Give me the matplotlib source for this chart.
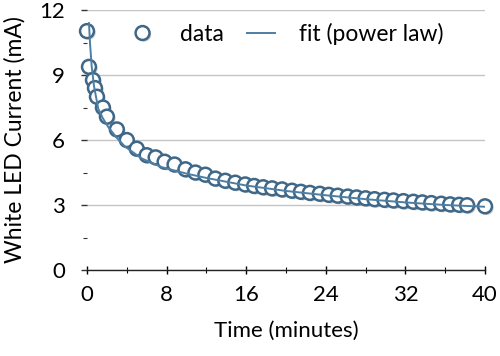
import matplotlib
matplotlib.use("Agg")
import matplotlib.pyplot as plt
import matplotlib.patheffects as pe
from matplotlib.ticker import MultipleLocator

time_min = [0, 0.2, 0.6, 0.8, 1.0, 1.6, 2.0, 3.0, 4.0, 5.0, 6.0, 6.9, 7.8, 8.8,
            9.9, 10.9, 11.9, 12.9, 13.9, 14.9, 15.9, 16.8, 17.7, 18.6, 19.6,
            20.6, 21.5, 22.4, 23.4, 24.3, 25.2, 26.2, 27.1, 28.0, 28.9, 29.9,
            30.8, 31.8, 32.8, 33.7, 34.6, 35.6, 36.5, 37.4, 38.2, 40.0]
current_ma = [11.03, 9.38, 8.77, 8.4, 8.0, 7.5, 7.08, 6.49, 6.0, 5.6, 5.3, 5.2,
              5.0, 4.87, 4.65, 4.5, 4.4, 4.22, 4.12, 4.03, 3.95, 3.88, 3.82,
              3.77, 3.72, 3.66, 3.61, 3.56, 3.52, 3.47, 3.43, 3.39, 3.35, 3.31,
              3.27, 3.24, 3.21, 3.18, 3.15, 3.12, 3.09, 3.06, 3.03, 3.01, 2.99,
              2.94]

# power-law fit curve
fit_t = [0.2, 0.3, 0.47, 0.7, 1.13, 1.6, 2.14, 3.0, 3.82, 5.5, 7.5, 10, 12,
         16, 20, 24, 28, 32, 36, 40]
fit_ma = [11.4, 10.5, 9.4, 8.5, 7.45, 7.0, 6.6, 6.1, 5.7, 5.15, 4.75, 4.45,
          4.25, 3.9, 3.65, 3.45, 3.27, 3.12, 3.0, 2.92]

plt.rcParams["font.family"] = ["Lato", "DejaVu Sans"]

fig = plt.figure(figsize=(5, 3.56), dpi=100)
ax = fig.add_axes([0.174, 0.2416, 0.796, 0.730])

edge = "#3e6788"
shadow = [pe.SimplePatchShadow(offset=(1.2, -1.2), alpha=0.3), pe.Normal()]

ax.plot(
    time_min,
    current_ma,
    linestyle="none",
    marker="o",
    markersize=10,
    markerfacecolor="white",
    markeredgecolor=edge,
    markeredgewidth=1.8,
    clip_on=False,
    zorder=3,
    path_effects=shadow,
    label="data"
)

ax.plot(
    fit_t,
    fit_ma,
    color="#4d7ea3",
    linewidth=1.4,
    zorder=4,
    label="fit (power law)"
)

ax.set_xlim(0, 40)
ax.set_ylim(0, 12)
ax.xaxis.set_major_locator(MultipleLocator(8))
ax.xaxis.set_minor_locator(MultipleLocator(4))
ax.yaxis.set_major_locator(MultipleLocator(3))
ax.yaxis.set_minor_locator(MultipleLocator(1.5))

ax.grid(axis="y", which="major", color="#c4c4c4", linewidth=1.0)
ax.set_axisbelow(True)

for side in ["left", "right", "top"]:
    ax.spines[side].set_visible(False)
ax.spines["bottom"].set_color("#222222")
ax.spines["bottom"].set_linewidth(1.0)

ax.tick_params(axis="x", which="major", direction="inout", length=6,
               width=1, pad=8, labelsize=16)
ax.tick_params(axis="x", which="minor", direction="inout", length=4, width=0.8)
ax.tick_params(axis="y", which="major", direction="out", length=4,
               width=1, pad=12, labelsize=16, color="#333333")
ax.tick_params(axis="y", which="minor", direction="out", length=3,
               width=0.8, color="#333333")

ax.set_xlabel("Time (minutes)", fontsize=16, labelpad=11)
ax.set_ylabel("White LED Current (mA)", fontsize=16.5, labelpad=10)

ax.legend(
    loc="upper center",
    bbox_to_anchor=(0.5, 1.03),
    ncol=2,
    frameon=False,
    fontsize=16.5,
    handlelength=1.2,
    columnspacing=1.0,
    handletextpad=1.05
)

plt.savefig("out.png", dpi=100)
plt.close()
